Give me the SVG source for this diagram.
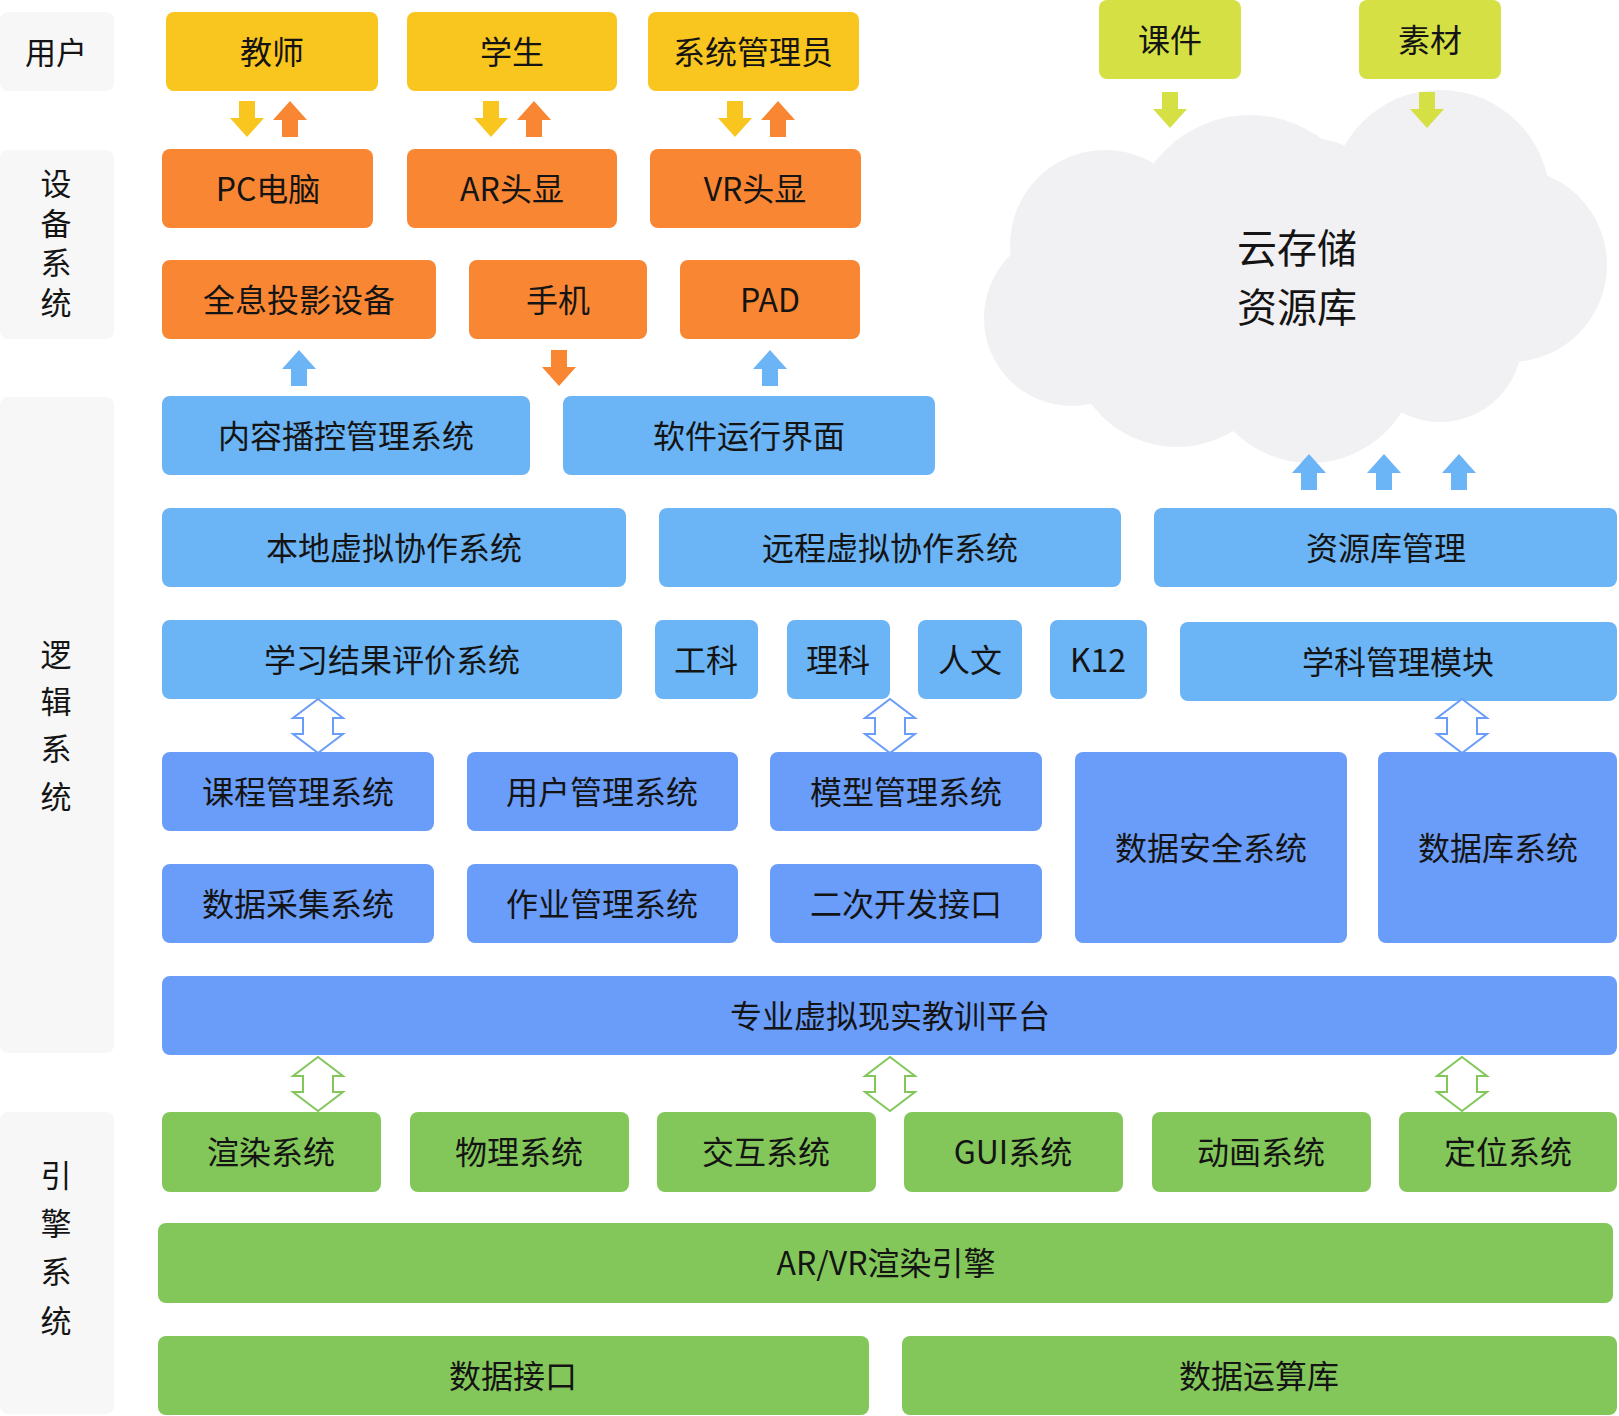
<svg xmlns="http://www.w3.org/2000/svg" xmlns:xlink="http://www.w3.org/1999/xlink" width="1619" height="1416" viewBox="0 0 1619 1416">
<style>
text{font-family:"Noto Sans CJK SC","Noto Sans",sans-serif;fill:#141414;text-anchor:middle;dominant-baseline:central}
.t,.cl,.h{transform:translate(0px,-2px)}
.t{font-size:32px}
.lb{font-size:31px}
.cl{font-size:40px}
.v{writing-mode:vertical-rl;text-orientation:upright}
.lab{fill:#f7f7f7}
.y{fill:#f9c51f}
.o{fill:#f98633}
.lb1{fill:#6bb5f6}
.mb{fill:#6a9cf9}
.g{fill:#83c75a}
.li{fill:#d5e044}
.cloud{fill:#f1f0f3}
.dab{fill:#ffffff;stroke:#6a9cf9;stroke-width:2}
.dag{fill:#ffffff;stroke:#83c75a;stroke-width:2}
</style>
<defs>
<path id="dn" d="M-8,0 H8 V17 H17 L0,36 L-17,17 H-8 Z"/>
<path id="up" d="M0,0 L17,19 H8 V36 H-8 V19 H-17 Z"/>
<path id="dbl" d="M0,0 L25,19 H15 V35 H25 L0,54 L-25,35 H-15 V19 H-25 Z"/>
</defs>
<rect width="1619" height="1416" fill="#ffffff"/>

<g id="labels">
<g id="lab-user"><rect class="lab" x="0" y="12" width="114" height="79" rx="8"/><text class="lb h" x="56" y="52">用户</text></g>
<g id="lab-device"><rect class="lab" x="0" y="150" width="114" height="189" rx="8"/>
<text class="lb v" x="56" y="247" letter-spacing="8.5">设备系统</text></g>
<g id="lab-logic"><rect class="lab" x="0" y="397" width="114" height="656" rx="8"/>
<text class="lb v" x="56" y="733" letter-spacing="16.3">逻辑系统</text></g>
<g id="lab-engine"><rect class="lab" x="0" y="1112" width="114" height="302" rx="8"/>
<text class="lb v" x="56" y="1256" letter-spacing="17.3">引擎系统</text></g>
</g>

<g id="cloud">
<g class="cloud">
<circle cx="1105" cy="245" r="95"/>
<circle cx="1072" cy="318" r="88"/>
<circle cx="1250" cy="235" r="120"/>
<circle cx="1440" cy="200" r="110"/>
<circle cx="1510" cy="265" r="97"/>
<circle cx="1440" cy="340" r="82"/>
<circle cx="1310" cy="355" r="108"/>
<circle cx="1177" cy="340" r="107"/>
<circle cx="1290" cy="285" r="150"/>
</g>
<text class="cl" x="1297" y="248">云存储</text>
<text class="cl" x="1297" y="307">资源库</text>
</g>

<g id="n-teacher"><rect class="y" x="166" y="12" width="212" height="79" rx="8"/><text class="t" x="272" y="52">教师</text></g>
<g id="n-student"><rect class="y" x="407" y="12" width="210" height="79" rx="8"/><text class="t" x="512" y="52">学生</text></g>
<g id="n-admin"><rect class="y" x="648" y="12" width="211" height="79" rx="8"/><text class="t" x="753" y="52">系统管理员</text></g>
<g id="n-courseware"><rect class="li" x="1099" y="0" width="142" height="79" rx="8"/><text class="t" x="1170" y="40">课件</text></g>
<g id="n-material"><rect class="li" x="1359" y="0" width="142" height="79" rx="8"/><text class="t" x="1430" y="40">素材</text></g>

<g id="n-pc"><rect class="o" x="162" y="149" width="211" height="79" rx="8"/><text class="t" x="268" y="189">PC电脑</text></g>
<g id="n-ar"><rect class="o" x="407" y="149" width="210" height="79" rx="8"/><text class="t" x="512" y="189">AR头显</text></g>
<g id="n-vr"><rect class="o" x="650" y="149" width="211" height="79" rx="8"/><text class="t" x="755" y="189">VR头显</text></g>

<g id="n-holo"><rect class="o" x="162" y="260" width="274" height="79" rx="8"/><text class="t" x="299" y="300">全息投影设备</text></g>
<g id="n-phone"><rect class="o" x="469" y="260" width="178" height="79" rx="8"/><text class="t" x="558" y="300">手机</text></g>
<g id="n-pad"><rect class="o" x="680" y="260" width="180" height="79" rx="8"/><text class="t" x="770" y="300">PAD</text></g>

<g id="n-content"><rect class="lb1" x="162" y="396" width="368" height="79" rx="8"/><text class="t" x="346" y="436">内容播控管理系统</text></g>
<g id="n-software"><rect class="lb1" x="563" y="396" width="372" height="79" rx="8"/><text class="t" x="749" y="436">软件运行界面</text></g>

<g id="n-local"><rect class="lb1" x="162" y="508" width="464" height="79" rx="8"/><text class="t" x="394" y="548">本地虚拟协作系统</text></g>
<g id="n-remote"><rect class="lb1" x="659" y="508" width="462" height="79" rx="8"/><text class="t" x="890" y="548">远程虚拟协作系统</text></g>
<g id="n-resmgr"><rect class="lb1" x="1154" y="508" width="463" height="79" rx="8"/><text class="t" x="1386" y="548">资源库管理</text></g>

<g id="n-eval"><rect class="lb1" x="162" y="620" width="460" height="79" rx="8"/><text class="t" x="392" y="660">学习结果评价系统</text></g>
<g id="n-eng"><rect class="lb1" x="655" y="620" width="103" height="79" rx="8"/><text class="t" x="706" y="660">工科</text></g>
<g id="n-sci"><rect class="lb1" x="787" y="620" width="103" height="79" rx="8"/><text class="t" x="838" y="660">理科</text></g>
<g id="n-hum"><rect class="lb1" x="918" y="620" width="104" height="79" rx="8"/><text class="t" x="970" y="660">人文</text></g>
<g id="n-k12"><rect class="lb1" x="1050" y="620" width="97" height="79" rx="8"/><text class="t" x="1098" y="660">K12</text></g>
<g id="n-subject"><rect class="lb1" x="1180" y="622" width="437" height="79" rx="8"/><text class="t" x="1398" y="662">学科管理模块</text></g>

<g id="n-course"><rect class="mb" x="162" y="752" width="272" height="79" rx="8"/><text class="t" x="298" y="792">课程管理系统</text></g>
<g id="n-usermgr"><rect class="mb" x="467" y="752" width="271" height="79" rx="8"/><text class="t" x="602" y="792">用户管理系统</text></g>
<g id="n-model"><rect class="mb" x="770" y="752" width="272" height="79" rx="8"/><text class="t" x="906" y="792">模型管理系统</text></g>
<g id="n-security"><rect class="mb" x="1075" y="752" width="272" height="191" rx="8"/><text class="t" x="1211" y="848">数据安全系统</text></g>
<g id="n-db"><rect class="mb" x="1378" y="752" width="239" height="191" rx="8"/><text class="t" x="1498" y="848">数据库系统</text></g>
<g id="n-collect"><rect class="mb" x="162" y="864" width="272" height="79" rx="8"/><text class="t" x="298" y="904">数据采集系统</text></g>
<g id="n-homework"><rect class="mb" x="467" y="864" width="271" height="79" rx="8"/><text class="t" x="602" y="904">作业管理系统</text></g>
<g id="n-api"><rect class="mb" x="770" y="864" width="272" height="79" rx="8"/><text class="t" x="906" y="904">二次开发接口</text></g>

<g id="n-platform"><rect class="mb" x="162" y="976" width="1455" height="79" rx="8"/><text class="t" x="890" y="1016">专业虚拟现实教训平台</text></g>

<g id="n-render"><rect class="g" x="162" y="1112" width="219" height="80" rx="8"/><text class="t" x="271" y="1152">渲染系统</text></g>
<g id="n-physics"><rect class="g" x="410" y="1112" width="219" height="80" rx="8"/><text class="t" x="519" y="1152">物理系统</text></g>
<g id="n-interact"><rect class="g" x="657" y="1112" width="219" height="80" rx="8"/><text class="t" x="766" y="1152">交互系统</text></g>
<g id="n-gui"><rect class="g" x="904" y="1112" width="219" height="80" rx="8"/><text class="t" x="1013" y="1152">GUI系统</text></g>
<g id="n-anim"><rect class="g" x="1152" y="1112" width="219" height="80" rx="8"/><text class="t" x="1261" y="1152">动画系统</text></g>
<g id="n-locate"><rect class="g" x="1399" y="1112" width="218" height="80" rx="8"/><text class="t" x="1508" y="1152">定位系统</text></g>

<g id="n-engine"><rect class="g" x="158" y="1223" width="1455" height="80" rx="8"/><text class="t" x="886" y="1263">AR/VR渲染引擎</text></g>
<g id="n-datai"><rect class="g" x="158" y="1336" width="711" height="79" rx="8"/><text class="t" x="513" y="1376">数据接口</text></g>
<g id="n-calc"><rect class="g" x="902" y="1336" width="715" height="79" rx="8"/><text class="t" x="1259" y="1376">数据运算库</text></g>

<g id="connectors">
<use xlink:href="#dn" x="247" y="101" class="y"/>
<use xlink:href="#up" x="290" y="101" class="o"/>
<use xlink:href="#dn" x="491" y="101" class="y"/>
<use xlink:href="#up" x="534" y="101" class="o"/>
<use xlink:href="#dn" x="735" y="101" class="y"/>
<use xlink:href="#up" x="778" y="101" class="o"/>
<use xlink:href="#dn" x="1170" y="92" class="li"/>
<use xlink:href="#dn" x="1427" y="92" class="li"/>
<use xlink:href="#up" x="299" y="350" class="lb1"/>
<use xlink:href="#dn" x="559" y="350" class="o"/>
<use xlink:href="#up" x="770" y="350" class="lb1"/>
<use xlink:href="#up" x="1309" y="454" class="lb1"/>
<use xlink:href="#up" x="1384" y="454" class="lb1"/>
<use xlink:href="#up" x="1459" y="454" class="lb1"/>
<use xlink:href="#dbl" x="318" y="699" class="dab"/>
<use xlink:href="#dbl" x="890" y="699" class="dab"/>
<use xlink:href="#dbl" x="1462" y="699" class="dab"/>
<use xlink:href="#dbl" x="318" y="1057" class="dag"/>
<use xlink:href="#dbl" x="890" y="1057" class="dag"/>
<use xlink:href="#dbl" x="1462" y="1057" class="dag"/>
</g>
</svg>
